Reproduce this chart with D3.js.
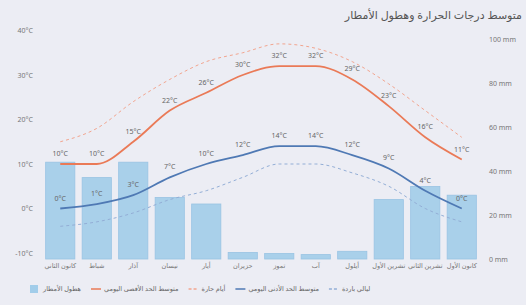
<!DOCTYPE html>
<html><head><meta charset="utf-8">
<script src="https://cdn.jsdelivr.net/npm/d3@7"></script>
<style>html,body{margin:0;padding:0;background:#ecedf4;}svg{display:block;font-family:"Noto Sans","DejaVu Sans",sans-serif;}</style>
</head><body>
<script>
const months = ["كانون الثاني","شباط","آذار","نيسان","أيار","حزيران","تموز","آب","أيلول","تشرين الأول","تشرين الثاني","كانون الأول"];
const precip = [44, 37, 44, 28, 25, 3, 2.5, 2, 3.5, 27, 33, 29];
const maxT = [10, 10, 15, 22, 26, 30, 32, 32, 29, 23, 16, 11];
const minT = [0, 1, 3, 7, 10, 12, 14, 14, 12, 9, 4, 0];
const hotDays = [15, 18, 24, 29, 33, 35, 37, 36, 33, 28, 22, 16];
const coldNights = [-4, -3, -1, 2, 4, 7, 10, 10, 8, 5, 0, -3];
const tempTicks = [-10, 0, 10, 20, 30, 40];
const precipTicks = [0, 20, 40, 60, 80, 100];
const title = "متوسط درجات الحرارة وهطول الأمطار";
const legendItems = [
  {key:"precip", label:"هطول الأمطار"},
  {key:"max", label:"متوسط الحد الأقصى اليومي"},
  {key:"hot", label:"أيام حارة"},
  {key:"min", label:"متوسط الحد الأدنى اليومي"},
  {key:"cold", label:"ليالي باردة"}
];

const W = 526, H = 305;
const svg = d3.select("body").append("svg").attr("width", W).attr("height", H);
svg.append("rect").attr("width", W).attr("height", H).attr("fill", "#ecedf4");

const x = d3.scaleBand().domain(months).range([42, 480]).paddingInner(0.2).paddingOuter(0.1);
const yT = d3.scaleLinear().domain([-10, 40]).range([253, 30.5]);
const yP = d3.scaleLinear().domain([0, 100]).range([259, 39]);

const colMax = "#ea7a57", colHot = "#f2a58f", colMin = "#4f79b4", colCold = "#93aed6";

// bars
svg.append("g").selectAll("rect").data(months).join("rect")
  .attr("x", d => x(d)).attr("width", x.bandwidth())
  .attr("y", (d,i) => yP(precip[i])).attr("height", (d,i) => yP(0) - yP(precip[i]))
  .attr("fill", "#a2cdea").attr("stroke", "#90c0e2").attr("stroke-width", 0.8).attr("opacity", 0.9);

const cx = d => x(d) + x.bandwidth()/2;
function drawLine(vals, color, width, dash) {
  const line = d3.line().x((d,i) => cx(months[i])).y(d => yT(d)).curve(d3.curveMonotoneX);
  svg.append("path").datum(vals).attr("d", line).attr("fill", "none")
    .attr("stroke", color).attr("stroke-width", width)
    .attr("stroke-dasharray", dash || null);
}
drawLine(coldNights, colCold, 1, "3,3");
drawLine(hotDays, colHot, 1, "3,3");
drawLine(minT, colMin, 1.8);
drawLine(maxT, colMax, 1.8);

function drawLabels(vals) {
  svg.append("g").selectAll("text").data(vals).join("text")
    .attr("x", (d,i) => cx(months[i])).attr("y", d => yT(d) - 8)
    .attr("text-anchor", "middle").attr("font-size", 7).attr("fill", "#666")
    .text(d => Math.round(d) + "°C");
}
drawLabels(maxT);
drawLabels(minT);

// left axis
svg.append("g").selectAll("text").data(tempTicks).join("text")
  .attr("x", 33).attr("y", d => yT(d) + 2.5).attr("text-anchor", "end")
  .attr("font-size", 7).attr("fill", "#777").text(d => d + "°C");
// right axis
svg.append("g").selectAll("text").data(precipTicks).join("text")
  .attr("x", 489).attr("y", d => yP(d) + 2.5).attr("text-anchor", "start")
  .attr("font-size", 7).attr("fill", "#777").text(d => d + " mm");

// month labels
svg.append("g").selectAll("text").data(months).join("text")
  .attr("x", d => cx(d)).attr("y", 268).attr("text-anchor", "middle")
  .attr("font-size", 6.5).attr("fill", "#777").text(d => d);

// title
svg.append("text").attr("x", 522).attr("y", 19).attr("text-anchor", "end")
  .attr("font-size", 11).attr("fill", "#555").text(title);

// legend
let lx = 30; const ly = 291;
const lg = svg.append("g");
legendItems.forEach(it => {
  if (it.key === "precip") {
    lg.append("rect").attr("x", lx).attr("y", ly - 6).attr("width", 8).attr("height", 8).attr("fill", "#a2cdea");
  } else {
    const c = {max: colMax, hot: colHot, min: colMin, cold: colCold}[it.key];
    const dash = (it.key === "hot" || it.key === "cold") ? "3,2" : null;
    lg.append("line").attr("x1", lx).attr("x2", lx + 10).attr("y1", ly - 2).attr("y2", ly - 2)
      .attr("stroke", c).attr("stroke-width", 1.5).attr("stroke-dasharray", dash);
  }
  const t = lg.append("text").attr("x", lx + 13).attr("y", ly).attr("font-size", 6.5).attr("fill", "#666").text(it.label);
  lx += 13 + t.node().getComputedTextLength() + 10;
});
</script>
</body></html>
